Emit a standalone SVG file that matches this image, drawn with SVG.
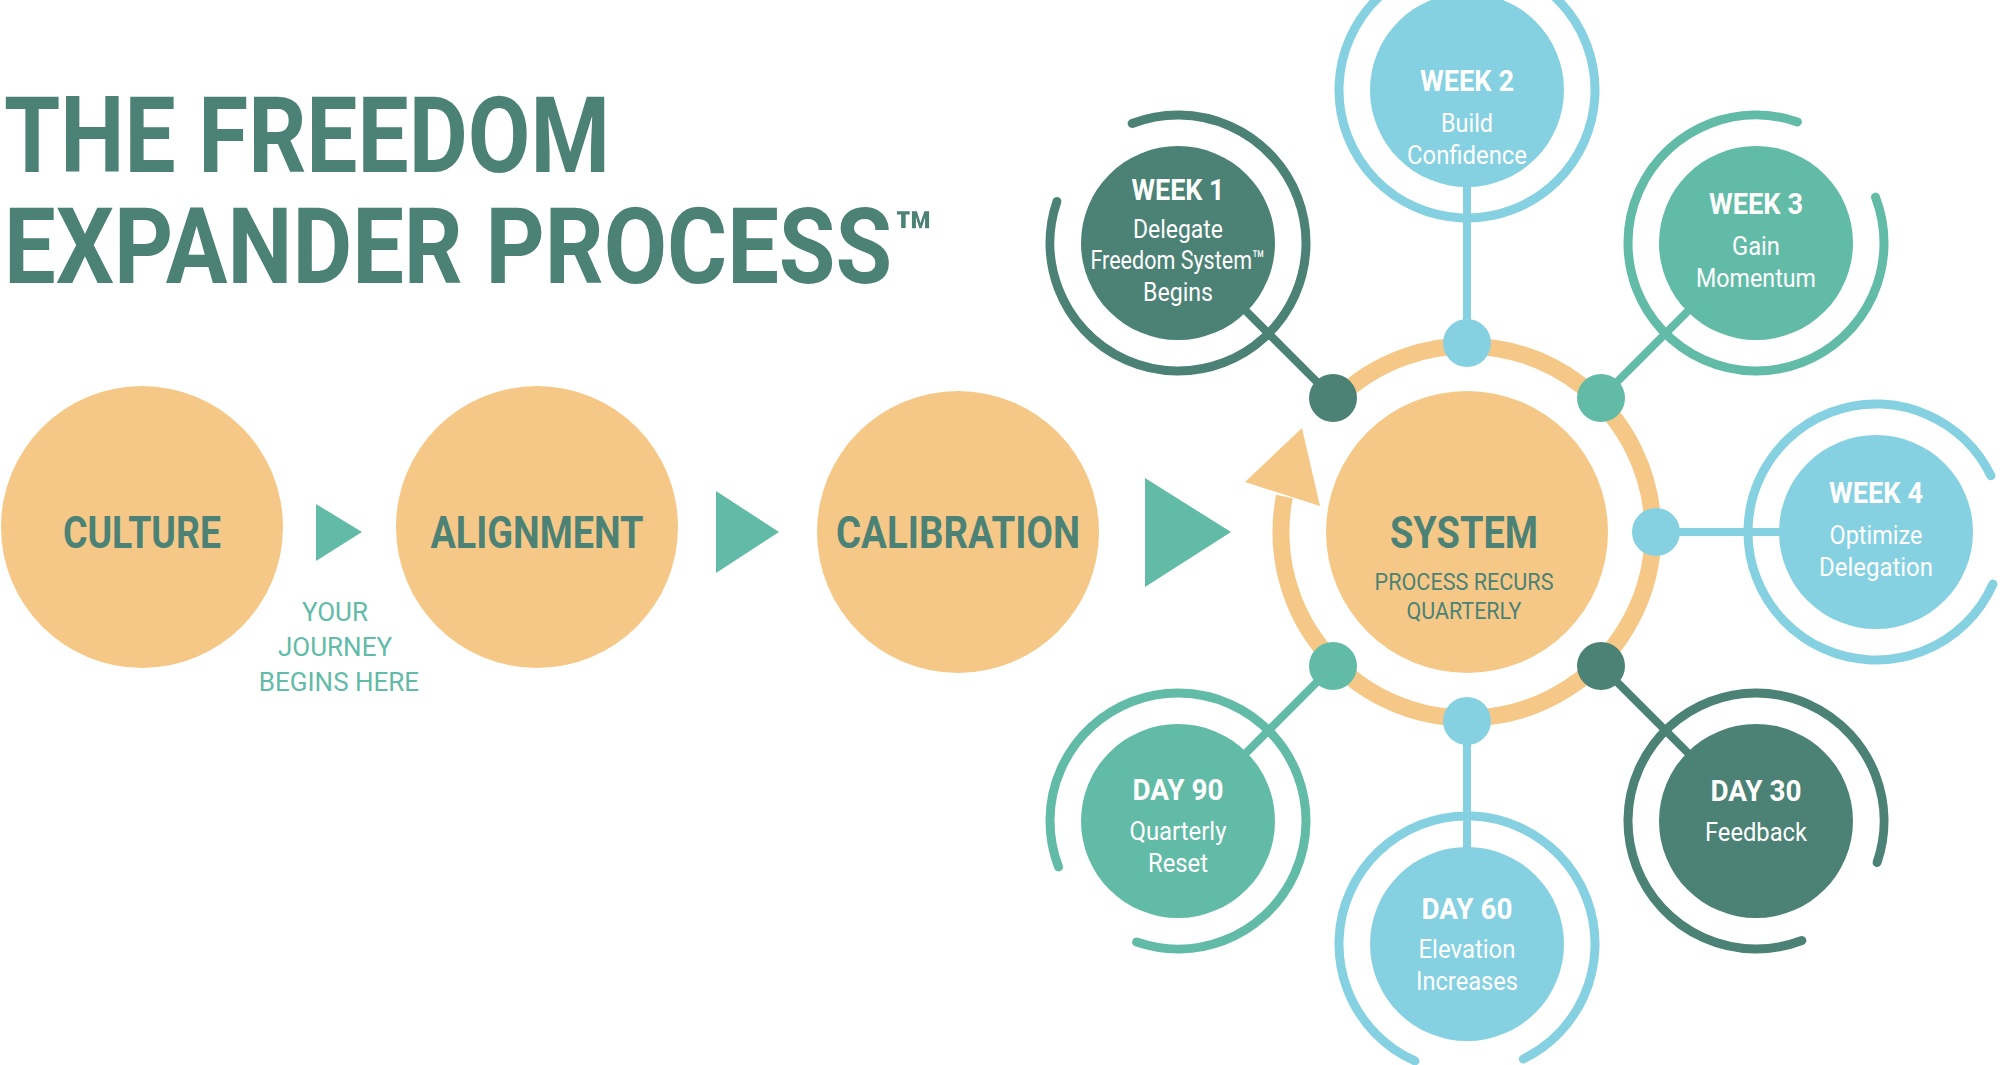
<svg xmlns="http://www.w3.org/2000/svg" width="2000" height="1065" viewBox="0 0 2000 1065">
<style>
text{font-family:Roboto,"Liberation Sans",sans-serif;text-anchor:middle}
.t{font-weight:700;font-size:106px;fill:#4b8275;text-anchor:start}
.m{font-weight:700;font-size:44px;fill:#4b8275}
.s{font-size:23px;fill:#4b8275}
.j{font-size:26px;fill:#62bba7}
.h{font-weight:700;font-size:30px;fill:#fff}
.b{font-size:26px;fill:#fff}
.ring{fill:none;stroke-width:9;stroke-linecap:round;stroke-dasharray:692 112}
.dk{fill:#4b8275}.tl{fill:#62bba7}.lb{fill:#85d1e1}.or{fill:#f6c887}
.cdk{stroke:#4b8275}.ctl{stroke:#62bba7}.clb{stroke:#85d1e1}
.ln{stroke-width:8}
</style>
<rect width="2000" height="1065" fill="#fff"/>
<g id="title">
<text class="t" x="4" y="172" textLength="606" lengthAdjust="spacingAndGlyphs">THE FREEDOM</text>
<text class="t" x="4" y="283" textLength="888" lengthAdjust="spacingAndGlyphs">EXPANDER PROCESS</text>
<text x="893" y="257" style="font-weight:700;font-size:64px;fill:#4b8275;text-anchor:start">™</text>
</g>
<g id="connectors">
<polygon class="tl" points="316,504 362,532 316,561"/>
<polygon class="tl" points="716,491 779,532 716,573"/>
<polygon class="tl" points="1145,478 1231,532 1145,587"/>
<path d="M1284.4,496.5 A186,186 0 1 0 1335.5,400.5" fill="none" stroke="#f6c887" stroke-width="17"/>
<polygon class="or" points="1302,428 1245,482 1320,506"/>
<line class="ln cdk" x1="1333" y1="398" x2="1178" y2="243"/>
<line class="ln clb" x1="1467" y1="343" x2="1467" y2="90"/>
<line class="ln ctl" x1="1601" y1="398" x2="1756" y2="243"/>
<line class="ln clb" x1="1656" y1="532" x2="1876" y2="532"/>
<line class="ln cdk" x1="1601" y1="666" x2="1756" y2="821"/>
<line class="ln clb" x1="1467" y1="721" x2="1467" y2="944"/>
<line class="ln ctl" x1="1333" y1="666" x2="1178" y2="821"/>
</g>
<g id="culture"><circle class="or" cx="142" cy="527" r="141"/><text class="m" x="142" y="548" textLength="158" lengthAdjust="spacingAndGlyphs">CULTURE</text></g>
<g id="journey"><text class="j" x="335" y="621">YOUR</text><text class="j" x="335" y="656">JOURNEY</text><text class="j" x="339" y="691">BEGINS HERE</text></g>
<g id="alignment"><circle class="or" cx="537" cy="527" r="141"/><text class="m" x="537" y="548" textLength="213" lengthAdjust="spacingAndGlyphs">ALIGNMENT</text></g>
<g id="calibration"><circle class="or" cx="958" cy="532" r="141"/><text class="m" x="958" y="548" textLength="244" lengthAdjust="spacingAndGlyphs">CALIBRATION</text></g>
<g id="system"><circle class="or" cx="1467" cy="532" r="141"/>
<text class="m" x="1464" y="548" textLength="148" lengthAdjust="spacingAndGlyphs">SYSTEM</text>
<text class="s" x="1464" y="590" textLength="179" lengthAdjust="spacingAndGlyphs">PROCESS RECURS</text>
<text class="s" x="1464" y="619" textLength="115" lengthAdjust="spacingAndGlyphs">QUARTERLY</text></g>
<g id="dots">
<circle class="dk" cx="1333" cy="398" r="24"/><circle class="lb" cx="1467" cy="343" r="24"/><circle class="tl" cx="1601" cy="398" r="24"/>
<circle class="lb" cx="1656" cy="532" r="24"/><circle class="dk" cx="1601" cy="666" r="24"/><circle class="lb" cx="1467" cy="721" r="24"/><circle class="tl" cx="1333" cy="666" r="24"/>
</g>
<g id="week1"><circle class="ring cdk" cx="1178" cy="243" r="128" transform="rotate(249 1178 243)"/><circle class="dk" cx="1178" cy="243" r="97"/>
<text class="h" x="1178" y="200" textLength="93" lengthAdjust="spacingAndGlyphs">WEEK 1</text><text class="b" x="1178" y="238" textLength="90" lengthAdjust="spacingAndGlyphs">Delegate</text><text class="b" x="1178" y="269" textLength="175" lengthAdjust="spacingAndGlyphs">Freedom System™</text><text class="b" x="1178" y="301" textLength="70" lengthAdjust="spacingAndGlyphs">Begins</text></g>
<g id="week2"><circle class="ring clb" cx="1467" cy="90" r="128" transform="rotate(294 1467 90)"/><circle class="lb" cx="1467" cy="90" r="97"/>
<text class="h" x="1467" y="91" textLength="94" lengthAdjust="spacingAndGlyphs">WEEK 2</text><text class="b" x="1467" y="132" textLength="52" lengthAdjust="spacingAndGlyphs">Build</text><text class="b" x="1467" y="164" textLength="120" lengthAdjust="spacingAndGlyphs">Confidence</text></g>
<g id="week3"><circle class="ring ctl" cx="1756" cy="243" r="128" transform="rotate(339 1756 243)"/><circle class="tl" cx="1756" cy="243" r="97"/>
<text class="h" x="1756" y="214" textLength="94" lengthAdjust="spacingAndGlyphs">WEEK 3</text><text class="b" x="1756" y="255" textLength="48" lengthAdjust="spacingAndGlyphs">Gain</text><text class="b" x="1756" y="287" textLength="120" lengthAdjust="spacingAndGlyphs">Momentum</text></g>
<g id="week4"><circle class="ring clb" cx="1876" cy="532" r="128" transform="rotate(24 1876 532)"/><circle class="lb" cx="1876" cy="532" r="97"/>
<text class="h" x="1876" y="503" textLength="94" lengthAdjust="spacingAndGlyphs">WEEK 4</text><text class="b" x="1876" y="544" textLength="93" lengthAdjust="spacingAndGlyphs">Optimize</text><text class="b" x="1876" y="576" textLength="114" lengthAdjust="spacingAndGlyphs">Delegation</text></g>
<g id="day30"><circle class="ring cdk" cx="1756" cy="821" r="128" transform="rotate(69 1756 821)"/><circle class="dk" cx="1756" cy="821" r="97"/>
<text class="h" x="1756" y="801" textLength="91" lengthAdjust="spacingAndGlyphs">DAY 30</text><text class="b" x="1756" y="841" textLength="102" lengthAdjust="spacingAndGlyphs">Feedback</text></g>
<g id="day60"><circle class="ring clb" cx="1467" cy="944" r="128" transform="rotate(114 1467 944)"/><circle class="lb" cx="1467" cy="944" r="97"/>
<text class="h" x="1467" y="919" textLength="91" lengthAdjust="spacingAndGlyphs">DAY 60</text><text class="b" x="1467" y="958" textLength="97" lengthAdjust="spacingAndGlyphs">Elevation</text><text class="b" x="1467" y="990" textLength="102" lengthAdjust="spacingAndGlyphs">Increases</text></g>
<g id="day90"><circle class="ring ctl" cx="1178" cy="821" r="128" transform="rotate(159 1178 821)"/><circle class="tl" cx="1178" cy="821" r="97"/>
<text class="h" x="1178" y="800" textLength="91" lengthAdjust="spacingAndGlyphs">DAY 90</text><text class="b" x="1178" y="840" textLength="97" lengthAdjust="spacingAndGlyphs">Quarterly</text><text class="b" x="1178" y="872" textLength="60" lengthAdjust="spacingAndGlyphs">Reset</text></g>
</svg>
